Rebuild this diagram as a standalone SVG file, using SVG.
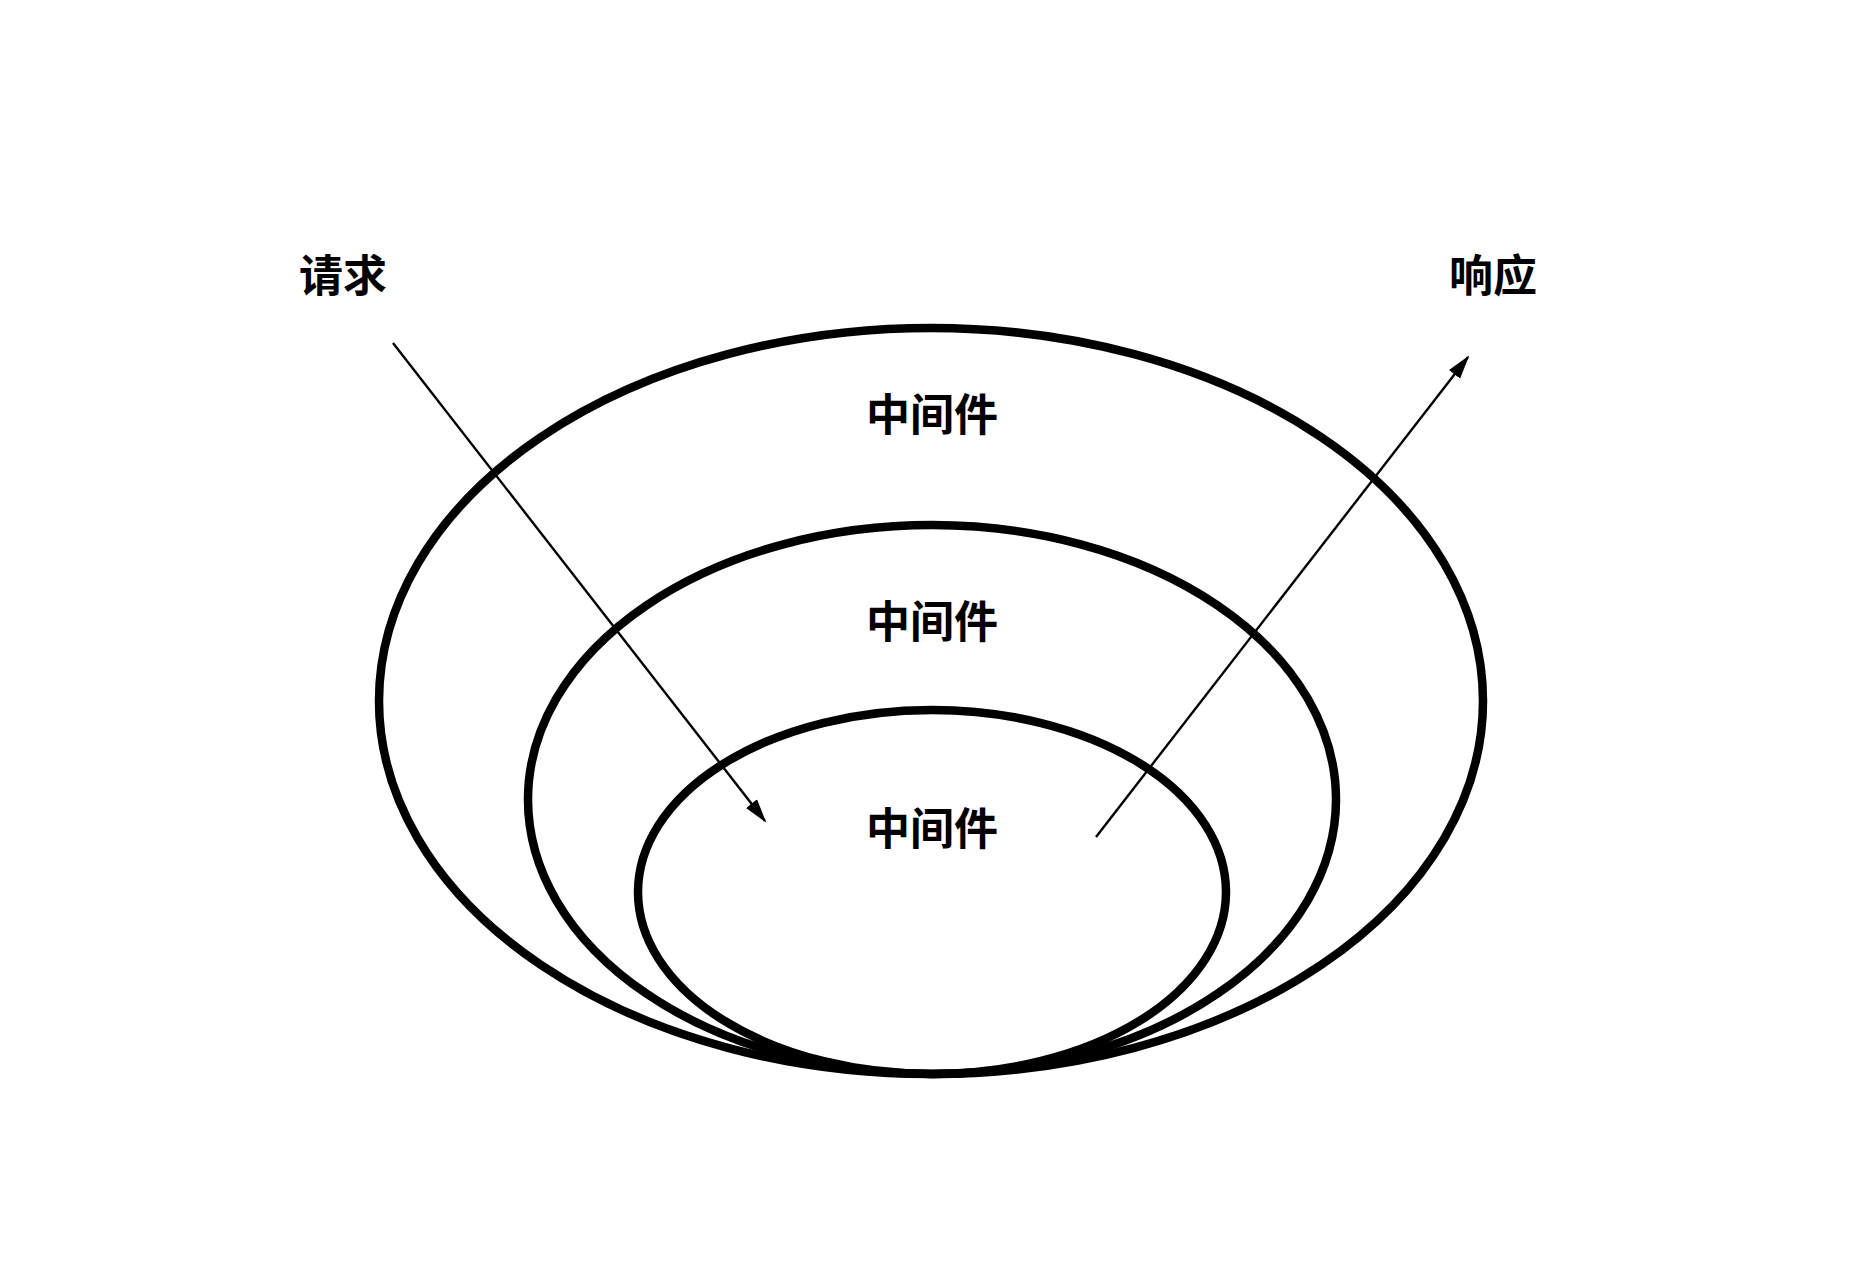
<svg xmlns="http://www.w3.org/2000/svg" width="1850" height="1282" viewBox="0 0 1850 1282">
<style>
.ring{fill:none;stroke:#000;stroke-width:8.5}
.conn{stroke:#000;stroke-width:2.4;fill:none}
.lbl{font-family:"Noto Sans CJK SC","Noto Sans CJK JP",sans-serif;font-size:44px;font-weight:700;fill:#000;text-anchor:middle;dominant-baseline:central}
</style>
<defs>
<marker id="arr" markerUnits="userSpaceOnUse" markerWidth="24" markerHeight="16" viewBox="0 0 24 16" refX="22" refY="8" orient="auto">
<path d="M0,1 L24,8 L0,15 Z" fill="#000"/>
</marker>
</defs>
<rect width="1850" height="1282" fill="#fff"/>
<g id="outer">
<ellipse class="ring" cx="931" cy="701" rx="552" ry="373"/>
<text class="lbl" x="932" y="412">中间件</text>
</g>
<g id="middle">
<ellipse class="ring" cx="932" cy="799.5" rx="404" ry="274.5"/>
<text class="lbl" x="932" y="619">中间件</text>
</g>
<g id="inner">
<ellipse class="ring" cx="932" cy="892" rx="294" ry="182"/>
<text class="lbl" x="932" y="826">中间件</text>
</g>
<g id="request">
<text class="lbl" x="343" y="273">请求</text>
</g>
<g id="response">
<text class="lbl" x="1493" y="273">响应</text>
</g>
<g id="connectors">
<line class="conn" x1="393" y1="343" x2="765" y2="821" marker-end="url(#arr)"/>
<line class="conn" x1="1096" y1="837" x2="1468" y2="357" marker-end="url(#arr)"/>
</g>
</svg>
